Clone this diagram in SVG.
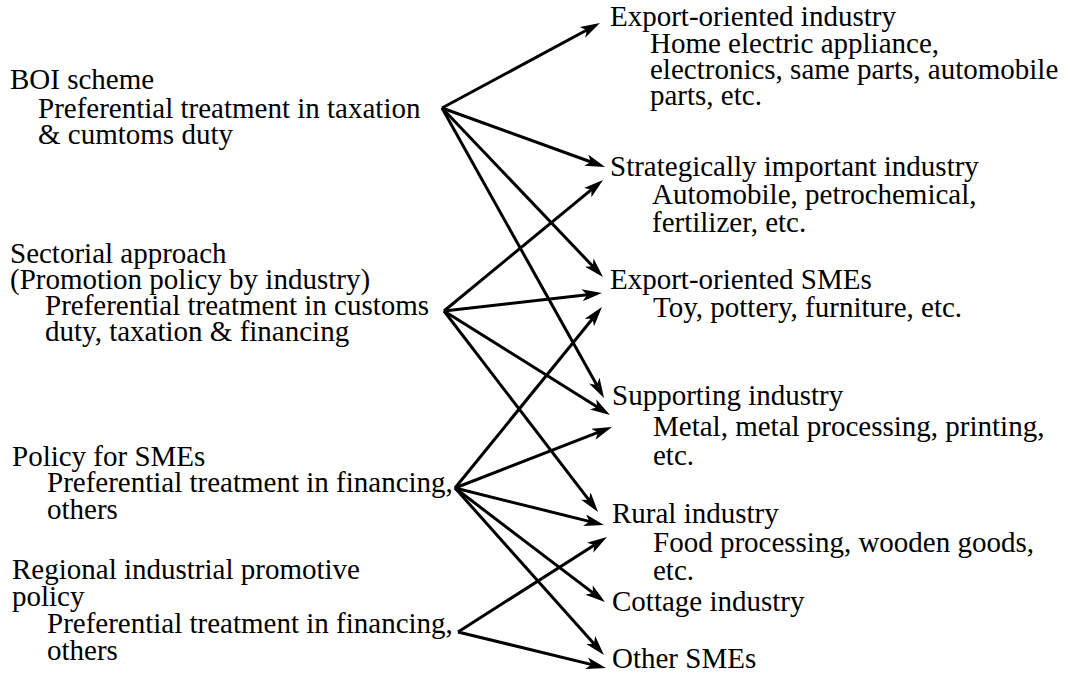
<svg xmlns="http://www.w3.org/2000/svg" width="1069" height="678" viewBox="0 0 1069 678">
  <style>
    .lbl { font-family: "Liberation Serif", "Times New Roman", serif; font-size: 29px; fill: #000; }
    .conn line { stroke: #000; stroke-width: 3; marker-end: url(#head); }
  </style>
  <defs>
    <!-- filled arrowhead with a slightly notched back -->
    <marker id="head" viewBox="0 0 20 12" markerWidth="20" markerHeight="12" markerUnits="userSpaceOnUse" refX="14" refY="6" orient="auto">
      <path d="M0,0 L20,6 L0,12 L5,6 z" fill="#000"/>
    </marker>
  </defs>
  <rect width="1069" height="678" fill="#fff"/>

  <g class="lbl">
    <!-- Policy measures (left column) -->
    <g id="boi">
      <text x="10" y="89">BOI scheme</text>
      <text x="38" y="118">Preferential treatment in taxation</text>
      <text x="38" y="144">&amp; cumtoms duty</text>
    </g>
    <g id="sectorial">
      <text x="10" y="263">Sectorial approach</text>
      <text x="10" y="289">(Promotion policy by industry)</text>
      <text x="45" y="315">Preferential treatment in customs</text>
      <text x="45" y="341">duty, taxation &amp; financing</text>
    </g>
    <g id="sme-policy">
      <text x="12" y="466">Policy for SMEs</text>
      <text x="47" y="492">Preferential treatment in financing,</text>
      <text x="47" y="519">others</text>
    </g>
    <g id="regional">
      <text x="12" y="579">Regional industrial promotive</text>
      <text x="12" y="606">policy</text>
      <text x="47" y="633">Preferential treatment in financing,</text>
      <text x="47" y="660">others</text>
    </g>

    <!-- Target industries (right column) -->
    <g id="export-industry">
      <text x="610" y="26">Export-oriented industry</text>
      <text x="650" y="53">Home electric appliance,</text>
      <text x="650" y="79">electronics, same parts, automobile</text>
      <text x="650" y="105">parts, etc.</text>
    </g>
    <g id="strategic">
      <text x="610" y="176">Strategically important industry</text>
      <text x="652" y="204">Automobile, petrochemical,</text>
      <text x="652" y="232">fertilizer, etc.</text>
    </g>
    <g id="export-smes">
      <text x="610" y="289">Export-oriented SMEs</text>
      <text x="653" y="317">Toy, pottery, furniture, etc.</text>
    </g>
    <g id="supporting">
      <text x="612" y="405">Supporting industry</text>
      <text x="653" y="436">Metal, metal processing, printing,</text>
      <text x="653" y="465">etc.</text>
    </g>
    <g id="rural">
      <text x="612" y="523">Rural industry</text>
      <text x="653" y="552">Food processing, wooden goods,</text>
      <text x="653" y="580">etc.</text>
    </g>
    <g id="cottage">
      <text x="612" y="611">Cottage industry</text>
    </g>
    <g id="other-smes">
      <text x="612" y="668">Other SMEs</text>
    </g>
  </g>

  <!-- Connectors: each line stops 6px short of the arrow tip -->
  <g class="conn" id="connectors">
    <line x1="442" y1="108" x2="594.7" y2="25.8"/>
    <line x1="442" y1="108" x2="599.4" y2="165.0"/>
    <line x1="442" y1="108" x2="598.9" y2="272.7"/>
    <line x1="442" y1="108" x2="601.1" y2="392.8"/>

    <line x1="444" y1="311" x2="598.4" y2="183.8"/>
    <line x1="444" y1="311" x2="596.0" y2="293.7"/>
    <line x1="444" y1="311" x2="604.9" y2="411.8"/>
    <line x1="444" y1="311" x2="594.4" y2="507.2"/>

    <line x1="455" y1="488" x2="598.2" y2="311.7"/>
    <line x1="455" y1="488" x2="606.4" y2="429.2"/>
    <line x1="455" y1="488" x2="598.2" y2="523.6"/>
    <line x1="455" y1="488" x2="600.2" y2="598.4"/>
    <line x1="455" y1="488" x2="600.0" y2="650.5"/>

    <line x1="458" y1="632" x2="601.9" y2="540.2"/>
    <line x1="458" y1="632" x2="600.2" y2="666.6"/>
  </g>
</svg>
